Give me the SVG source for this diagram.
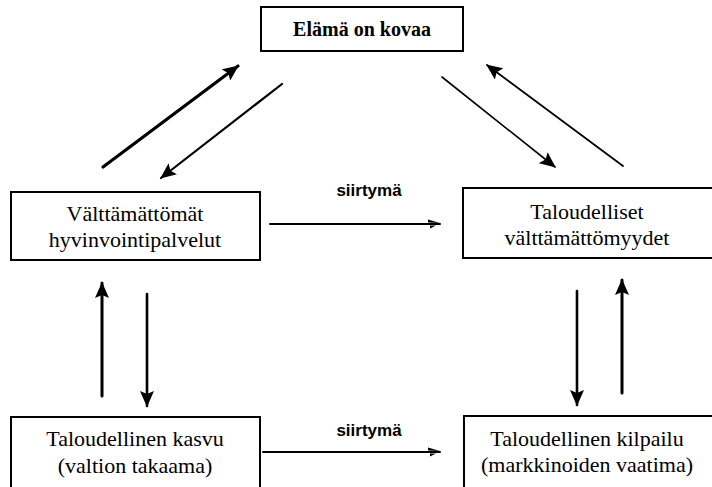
<svg xmlns="http://www.w3.org/2000/svg" width="712" height="487" viewBox="0 0 712 487">
<defs>
<style>
.box{fill:none;stroke:#000;stroke-width:2}
.t{font-family:"Liberation Serif","Times New Roman",serif;font-size:22px;text-anchor:middle;fill:#000}
.tb{font-family:"Liberation Serif","Times New Roman",serif;font-size:20px;font-weight:bold;text-anchor:middle;fill:#000}
.lbl{font-family:"Liberation Sans",Arial,sans-serif;font-size:17px;font-weight:bold;text-anchor:middle;fill:#000}
.c{stroke:#000;fill:none;stroke-linecap:round}
</style>
<marker id="ah" markerUnits="userSpaceOnUse" markerWidth="16" markerHeight="14" refX="15" refY="7" orient="auto">
<path d="M0,0 L16,7 L0,14 L3,7 z" fill="#000"/>
</marker>
<marker id="hh" markerUnits="userSpaceOnUse" markerWidth="14" markerHeight="12" refX="13" refY="6" orient="auto">
<path d="M1,1.5 L13,5 L1,4.6 z" fill="#000"/>
<path d="M3,7.5 L9,7.5 L3,10.5 z" fill="#000"/>
</marker>
</defs>

<g id="n-elama">
<rect class="box" x="261" y="7" width="202" height="44"/>
<text class="tb" x="362" y="36">Elämä on kovaa</text>
</g>

<g id="n-hyvinvointi">
<rect class="box" x="11" y="192" width="249" height="68"/>
<text class="t" x="135" y="221">Välttämättömät</text>
<text class="t" x="135" y="247">hyvinvointipalvelut</text>
</g>

<g id="n-taloudelliset">
<rect class="box" x="463" y="188" width="260" height="70"/>
<text class="t" x="587" y="219">Taloudelliset</text>
<text class="t" x="587" y="245">välttämättömyydet</text>
</g>

<g id="n-kasvu">
<path class="box" d="M11,495 L11,417 L260,417 L260,495"/>
<text class="t" x="135" y="446">Taloudellinen kasvu</text>
<text class="t" x="135" y="473">(valtion takaama)</text>
</g>

<g id="n-kilpailu">
<path class="box" d="M464,495 L464,416 L720,416"/>
<text class="t" x="587" y="446">Taloudellinen kilpailu</text>
<text class="t" x="587" y="472">(markkinoiden vaatima)</text>
</g>

<g id="connectors">
<line class="c" x1="103" y1="167" x2="238" y2="66" stroke-width="3.2" marker-end="url(#ah)"/>
<line class="c" x1="282" y1="84" x2="161" y2="178" stroke-width="2.2" marker-end="url(#ah)"/>
<line class="c" x1="442" y1="77" x2="555" y2="167" stroke-width="1.6" marker-end="url(#ah)"/>
<line class="c" x1="623" y1="166" x2="487" y2="65" stroke-width="1.8" marker-end="url(#ah)"/>

<line class="c" x1="270" y1="224" x2="440" y2="224" stroke-width="2" marker-end="url(#hh)"/>
<text class="lbl" x="369" y="196">siirtymä</text>
<line class="c" x1="263" y1="452" x2="440" y2="452" stroke-width="2" marker-end="url(#hh)"/>
<text class="lbl" x="369" y="436">siirtymä</text>

<line class="c" x1="102" y1="396" x2="102" y2="283" stroke-width="3" marker-end="url(#ah)"/>
<line class="c" x1="147" y1="294" x2="147" y2="406" stroke-width="2.6" marker-end="url(#ah)"/>
<line class="c" x1="577" y1="291" x2="577" y2="405" stroke-width="2.6" marker-end="url(#ah)"/>
<line class="c" x1="622" y1="393" x2="622" y2="280" stroke-width="3" marker-end="url(#ah)"/>
</g>
</svg>
